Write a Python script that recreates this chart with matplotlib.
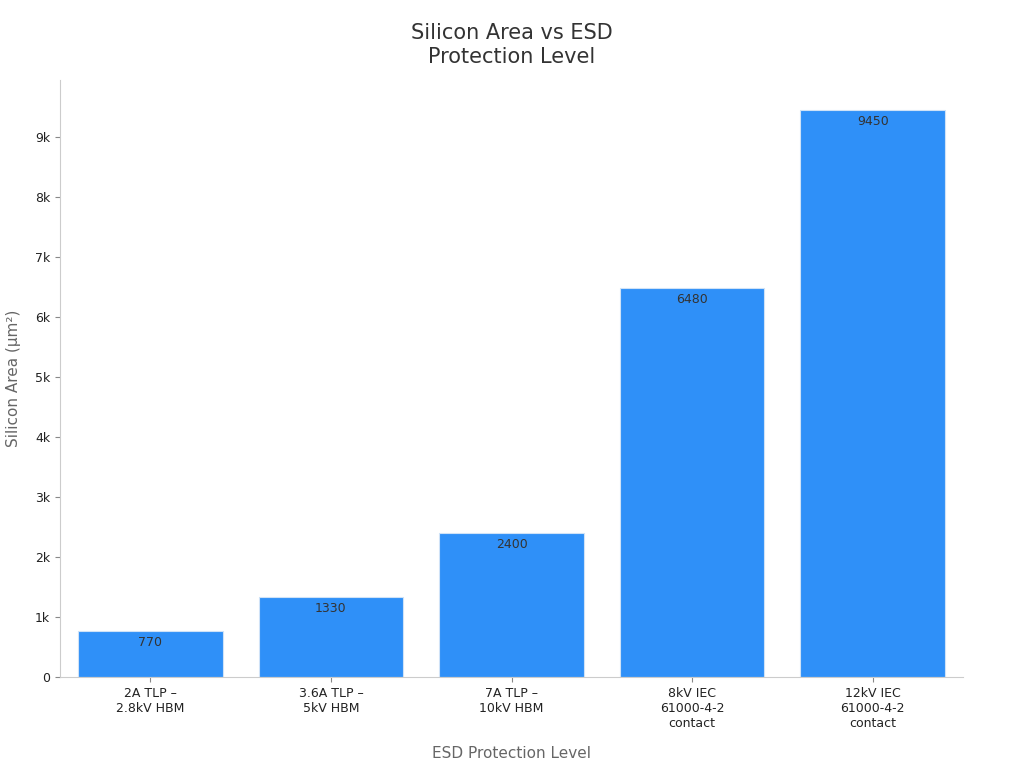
import matplotlib
matplotlib.use("Agg")
import matplotlib.pyplot as plt
from matplotlib.ticker import FuncFormatter

categories = ["2A TLP –\n2.8kV HBM", "3.6A TLP –\n5kV HBM", "7A TLP –\n10kV HBM",
              "8kV IEC\n61000-4-2\ncontact", "12kV IEC\n61000-4-2\ncontact"]
values = [770, 1330, 2400, 6480, 9450]

plt.rcParams["font.family"] = "DejaVu Sans"
fig = plt.figure(figsize=(10.24, 7.68), dpi=100)
ax = fig.add_axes([60/1024, 1-677/768, 903/1024, 597/768])
x = list(range(len(categories)))
bars = ax.bar(x, values, width=0.8, color="#2f90f8", edgecolor="#cfe2f7", linewidth=0.8)
for xi, v in zip(x, values):
    ax.text(xi, v - 80, str(v), ha="center", va="top", fontsize=9, color="#333333")
ax.set_xlim(-0.5, 4.5)
ax.set_ylim(0, 9950)
ax.set_yticks(range(0, 10000, 1000))
ax.yaxis.set_major_formatter(FuncFormatter(lambda v, p: "0" if v == 0 else f"{int(v/1000)}k"))
ax.set_xticks(x)
ax.set_xticklabels(categories, fontsize=9, color="#222222")
ax.tick_params(axis="y", labelsize=9, colors="#222222")
ax.tick_params(color="#888888")
for s in ["top", "right"]:
    ax.spines[s].set_visible(False)
for s in ["left", "bottom"]:
    ax.spines[s].set_color("#cccccc")
ax.set_xlabel("ESD Protection Level", fontsize=11, color="#666666", labelpad=12)
ax.set_ylabel("Silicon Area (µm²)", fontsize=11, color="#666666", labelpad=10)
fig.text(0.5, 1-45/768, "Silicon Area vs ESD\nProtection Level", ha="center", va="center",
         fontsize=15, color="#333333", linespacing=1.3)
fig.savefig("out.png", dpi=100)
